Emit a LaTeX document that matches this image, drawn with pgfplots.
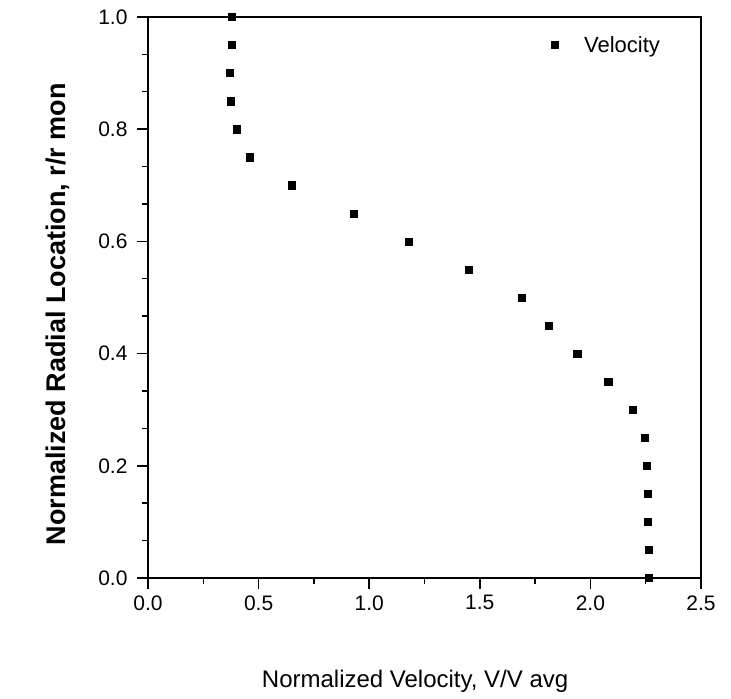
\documentclass[border=0pt]{standalone}
\usepackage{fontspec}
\setmainfont{Liberation Sans}
\usepackage{pgfplots}
\pgfplotsset{compat=1.18}
\begin{document}
\begin{tikzpicture}
\useasboundingbox (0bp,0bp) rectangle (731bp,699bp);
% normalized velocity profile across the radius
\begin{axis}[
  at={(148bp,121bp)}, anchor=south west,
  scale only axis, width=553bp, height=561bp,
  xmin=0, xmax=2.5, ymin=0, ymax=1,
  xtick={0,0.5,1,1.5,2,2.5}, ytick={0,0.2,0.4,0.6,0.8,1},
  minor x tick num=1, minor y tick num=2,
  tick align=outside, tick pos=left,
  major tick length=11bp, minor tick length=6bp,
  major tick style={line width=1.6bp, black},
  minor tick style={line width=1.4bp, black},
  axis line style={line width=2.2bp, black},
  clip=false,
  tick label style={font=\fontsize{21bp}{24bp}\selectfont},
  yticklabel style={xshift=-6bp},
  xticklabel style={yshift=-3bp},
  xticklabel={\pgfmathprintnumber[fixed,fixed zerofill,precision=1,assume math mode=true]{\tick}},
  yticklabel={\pgfmathprintnumber[fixed,fixed zerofill,precision=1,assume math mode=true]{\tick}},
  xlabel={Normalized Velocity, V/V avg},
  ylabel={Normalized Radial Location, r/r mon},
  xlabel style={font=\fontsize{24bp}{28bp}\selectfont, at={(axis description cs:0.483,-0.185)}, anchor=center},
  ylabel style={font=\fontsize{27bp}{30bp}\selectfont\bfseries, at={(axis description cs:-0.163,0.47)}, anchor=center},
  legend style={draw=none, fill=none, at={(0.935,0.95)}, anchor=east,
    font=\fontsize{22bp}{26bp}\selectfont},
]
\addplot[only marks, mark=square*, mark size=3.6bp, black] coordinates {
  (0.38,1.00)(0.38,0.95)(0.37,0.90)(0.375,0.85)(0.40,0.80)(0.46,0.75)
  (0.65,0.70)(0.93,0.65)(1.18,0.60)(1.45,0.55)(1.69,0.50)(1.81,0.45)
  (1.94,0.40)(2.08,0.35)(2.19,0.30)(2.245,0.25)(2.255,0.20)(2.26,0.15)
  (2.26,0.10)(2.265,0.05)(2.265,0.00)
};
\addlegendentry{\hspace{24bp}Velocity}
\end{axis}
\end{tikzpicture}
\end{document}
